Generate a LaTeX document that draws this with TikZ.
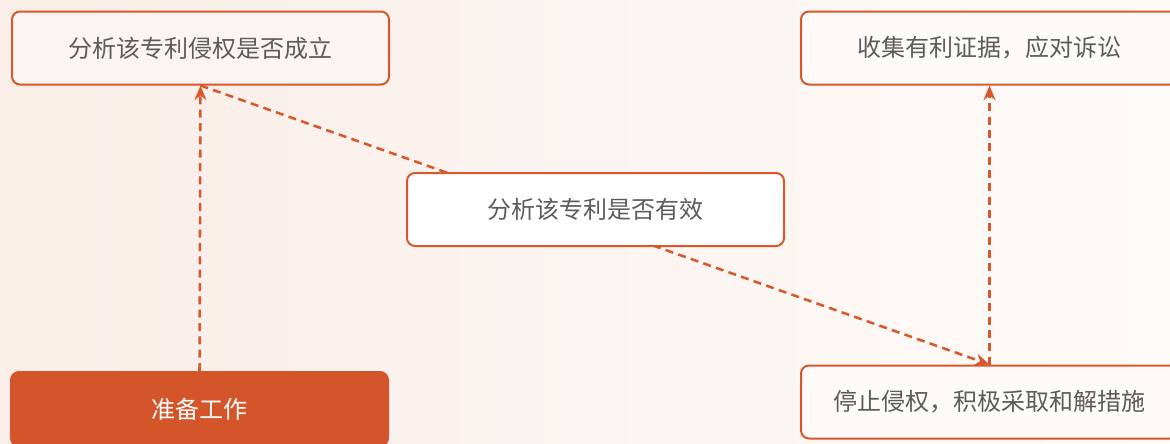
\documentclass[tikz,border=0pt]{standalone}
\usepackage{fontspec}
\newfontfamily\cjk{Noto Sans CJK SC}
\usetikzlibrary{arrows.meta}
\definecolor{accent}{HTML}{D9582B}
\definecolor{accentfill}{HTML}{D4552A}
\definecolor{txt}{HTML}{5C5C5C}
\definecolor{bgleft}{HTML}{F9EDE7}
\definecolor{bgright}{HTML}{FEFBF9}
\definecolor{boxA}{HTML}{FBF4F0}
\definecolor{boxR}{HTML}{FEFAF8}
\pgfdeclarelayer{bg}
\pgfdeclarelayer{edges}
\pgfsetlayers{bg,edges,main}
\tikzset{
  box/.style={draw=accent, line width=1.5pt, rounded corners=6pt,
    minimum width=377*0.75pt, minimum height=73*0.75pt, inner sep=0pt,
    font=\cjk\fontsize{18}{20}\selectfont, text=txt},
  flow/.style={draw=accent, line width=1.9pt, dash pattern=on 6pt off 4pt,
    -{Stealth[length=11pt,width=9pt]}},
}
\begin{document}
\begin{tikzpicture}[x=0.75pt,y=-0.75pt]
\useasboundingbox (0,0) rectangle (1170,443);
\clip (0,0) rectangle (1170,443);
\begin{pgfonlayer}{bg}
\shade[left color=bgleft, right color=bgright, shading angle=90] (0,0) rectangle (1170,443);
\end{pgfonlayer}
\node[box, fill=boxA] (A) at (200.5,48) {分析该专利侵权是否成立};
\node[box, fill=boxR] (B) at (989.5,48) {收集有利证据，应对诉讼};
\node[box, fill=white] (C) at (595.5,209.5) {分析该专利是否有效};
\node[box, fill=accentfill, draw=accentfill, text=white, minimum height=74*0.75pt] (D) at (199.5,409) {准备工作};
\node[box, fill=boxR] (E) at (989.5,402) {停止侵权，积极采取和解措施};
\begin{pgfonlayer}{edges}
\draw[flow] (D.north) -- (A.south);
\draw[flow] (A.south) -- (E.north);
\draw[flow] (E.north) -- (B.south);
\end{pgfonlayer}
\end{tikzpicture}
\end{document}
